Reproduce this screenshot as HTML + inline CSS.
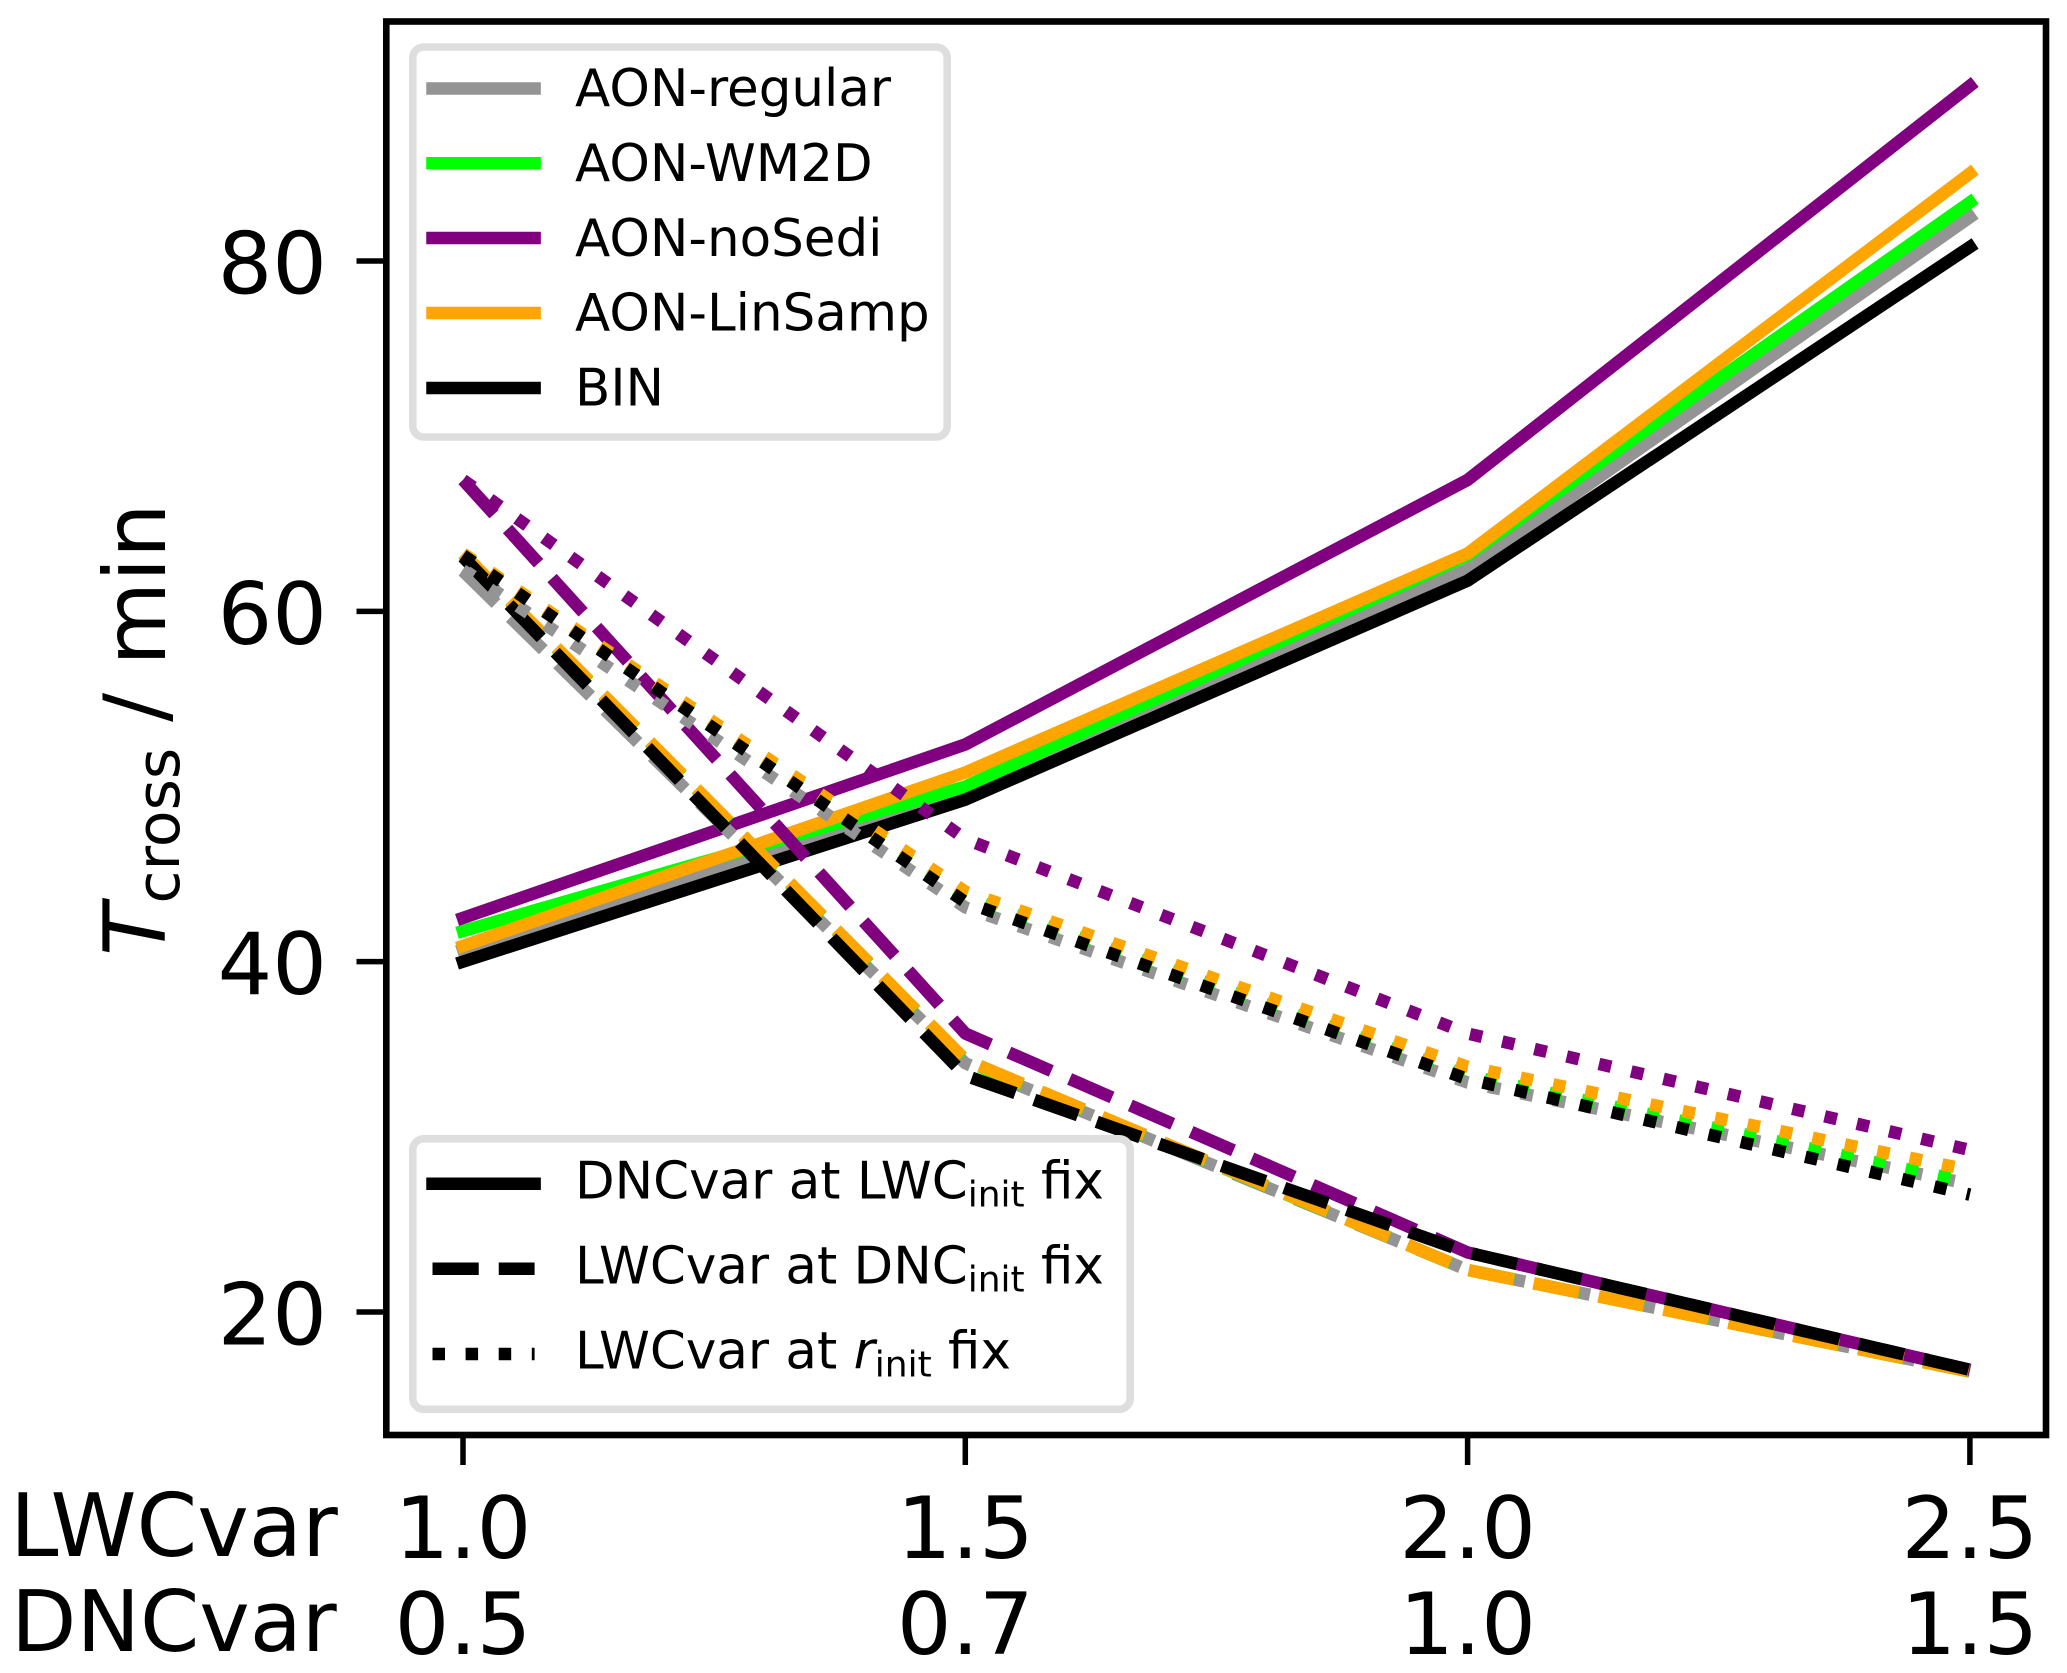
<!DOCTYPE html>
<html lang="en">
<head>
<meta charset="utf-8">
<title>Tcross versus LWCvar and DNCvar</title>
<style>
html,body{margin:0;padding:0;background:#fff;}
svg{display:block;}
text{font-family:"DejaVu Sans","Liberation Sans",sans-serif;fill:#000;}
</style>
</head>
<body>
<svg id="chart" xmlns="http://www.w3.org/2000/svg" width="2067" height="1673" viewBox="0 0 2067 1673">
  <rect x="0" y="0" width="2067" height="1673" fill="#fff"/>
  <g id="series-layer"></g>
  <rect x="386.3" y="21.5" width="1659.7" height="1413.5" fill="none" stroke="#000" stroke-width="6.6"/>
  <g id="ticks-layer"></g>

  <text transform="translate(165,956) rotate(-90)" font-size="86"><tspan font-style="italic">T</tspan><tspan font-size="60" dy="14">cross</tspan><tspan dy="-14" dx="26">/ min</tspan></text>

  <text x="10" y="1556" font-size="87">LWCvar</text>
  <text x="11" y="1651" font-size="85">DNCvar</text>

  <g>
    <rect x="412.8" y="47" width="534.4" height="390" rx="11" ry="11" fill="#fff" fill-opacity="0.8" stroke="#dedede" stroke-width="7.6"/>
    <line x1="432.5" x2="534.6" y1="88.5" y2="88.5" stroke="#949494" stroke-width="12.5" stroke-linecap="square"/>
    <text x="575" y="106" font-size="51.5">AON-regular</text>
    <line x1="432.5" x2="534.6" y1="163.3" y2="163.3" stroke="#00ff00" stroke-width="12.5" stroke-linecap="square"/>
    <text x="575" y="181" font-size="51.5">AON-WM2D</text>
    <line x1="432.5" x2="534.6" y1="238" y2="238" stroke="#800080" stroke-width="12.5" stroke-linecap="square"/>
    <text x="575" y="256" font-size="51.5">AON-noSedi</text>
    <line x1="432.5" x2="534.6" y1="313" y2="313" stroke="#ffa500" stroke-width="12.5" stroke-linecap="square"/>
    <text x="575" y="330.5" font-size="51.5">AON-LinSamp</text>
    <line x1="432.5" x2="534.6" y1="388" y2="388" stroke="#000" stroke-width="12.5" stroke-linecap="square"/>
    <text x="575" y="405.5" font-size="51.5">BIN</text>
  </g>

  <g>
    <rect x="412.8" y="1138.8" width="717.4" height="270.5" rx="11" ry="11" fill="#fff" fill-opacity="0.8" stroke="#dedede" stroke-width="7.6"/>
    <line x1="432.5" x2="534.6" y1="1183.7" y2="1183.7" stroke="#000" stroke-width="12.5" stroke-linecap="square"/>
    <text x="575" y="1198.5" font-size="51.5">DNCvar at LWC<tspan font-size="36" dy="8">init</tspan><tspan dy="-8"> fix</tspan></text>
    <line x1="432.5" x2="534.6" y1="1268.8" y2="1268.8" stroke="#000" stroke-width="12.5" stroke-dasharray="46.25 20"/>
    <text x="575" y="1283.5" font-size="51.5">LWCvar at DNC<tspan font-size="36" dy="8">init</tspan><tspan dy="-8"> fix</tspan></text>
    <line x1="432.5" x2="534.6" y1="1354" y2="1354" stroke="#000" stroke-width="12.5" stroke-dasharray="12.5 20.6"/>
    <text x="575" y="1368.5" font-size="51.5">LWCvar at <tspan font-style="italic">r</tspan><tspan font-size="36" dy="8">init</tspan><tspan dy="-8"> fix</tspan></text>
  </g>
</svg>

<script>
// Categories and tick labels
const lwcVarCategories = [1.0, 1.5, 2.0, 2.5];
const lwcVarLabels = ['1.0', '1.5', '2.0', '2.5'];
const dncVarLabels = ['0.5', '0.7', '1.0', '1.5'];
const yTickValues = [20, 40, 60, 80];

// Solid: DNCvar at LWCinit fix
const solidRegular = [40.7, 49.8, 62.4, 82.5];
const solidWm2d = [41.75, 50.0, 63.2, 83.35];
const solidNoSedi = [42.5, 52.4, 67.5, 90.0];
const solidLinSamp = [40.9, 50.8, 63.3, 85.0];
const solidBin = [40.0, 49.25, 61.75, 80.8];

// Dashed: LWCvar at DNCinit fix
const dashedRegular = [62.3, 34.2, 22.4, 16.6];
const dashedWm2d = [63.25, 34.35, 22.4, 16.6];
const dashedNoSedi = [67.5, 35.9, 23.4, 16.7];
const dashedLinSamp = [63.3, 34.4, 22.4, 16.6];
const dashedBin = [63.1, 33.5, 23.4, 16.7];

// Dotted: LWCvar at rinit fix
const dottedRegular = [62.4, 43.1, 33.1, 27.3];
const dottedWm2d = [63.25, 43.7, 33.5, 27.4];
const dottedNoSedi = [67.5, 47.0, 35.9, 29.25];
const dottedLinSamp = [63.3, 44.0, 34.0, 28.1];
const dottedBin = [63.2, 43.4, 33.3, 26.7];

const seriesColors = { regular: '#949494', wm2d: '#00ff00', noSedi: '#800080', linSamp: '#ffa500', bin: '#000000' };

function xScale(v) { return 463 + (v - 1.0) * 1004.6; }
function yScale(v) { return 1312 - (v - 20) * 17.517; }

const NS = 'http://www.w3.org/2000/svg';
const seriesLayer = document.getElementById('series-layer');
const ticksLayer = document.getElementById('ticks-layer');

function drawSeries(values, color, name, dash) {
  const line = document.createElementNS(NS, 'polyline');
  const pts = values.map(function (v, i) {
    return xScale(lwcVarCategories[i]).toFixed(2) + ',' + yScale(v).toFixed(2);
  }).join(' ');
  line.setAttribute('points', pts);
  line.setAttribute('fill', 'none');
  line.setAttribute('stroke', color);
  line.setAttribute('stroke-width', '12.5');
  line.setAttribute('stroke-linejoin', 'round');
  if (dash) {
    line.setAttribute('stroke-dasharray', dash);
    line.setAttribute('stroke-linecap', 'butt');
  } else {
    line.setAttribute('stroke-linecap', 'square');
  }
  
  
  seriesLayer.appendChild(line);
}

drawSeries(solidRegular, seriesColors.regular, 'solid-aon-regular', null);
drawSeries(solidWm2d, seriesColors.wm2d, 'solid-aon-wm2d', null);
drawSeries(solidNoSedi, seriesColors.noSedi, 'solid-aon-nosedi', null);
drawSeries(solidLinSamp, seriesColors.linSamp, 'solid-aon-linsamp', null);
drawSeries(solidBin, seriesColors.bin, 'solid-bin', null);

drawSeries(dashedRegular, seriesColors.regular, 'dashed-aon-regular', '46.25 20');
drawSeries(dashedWm2d, seriesColors.wm2d, 'dashed-aon-wm2d', '46.25 20');
drawSeries(dashedNoSedi, seriesColors.noSedi, 'dashed-aon-nosedi', '46.25 20');
drawSeries(dashedLinSamp, seriesColors.linSamp, 'dashed-aon-linsamp', '46.25 20');
drawSeries(dashedBin, seriesColors.bin, 'dashed-bin', '46.25 20');

drawSeries(dottedRegular, seriesColors.regular, 'dotted-aon-regular', '12.5 20.6');
drawSeries(dottedWm2d, seriesColors.wm2d, 'dotted-aon-wm2d', '12.5 20.6');
drawSeries(dottedNoSedi, seriesColors.noSedi, 'dotted-aon-nosedi', '12.5 20.6');
drawSeries(dottedLinSamp, seriesColors.linSamp, 'dotted-aon-linsamp', '12.5 20.6');
drawSeries(dottedBin, seriesColors.bin, 'dotted-bin', '12.5 20.6');

yTickValues.forEach(function (v) {
  const y = yScale(v);
  const tick = document.createElementNS(NS, 'line');
  tick.setAttribute('x1', '356.5');
  tick.setAttribute('x2', '386');
  tick.setAttribute('y1', y);
  tick.setAttribute('y2', y);
  tick.setAttribute('stroke', '#000');
  tick.setAttribute('stroke-width', '5.5');
  
  
  ticksLayer.appendChild(tick);
  const label = document.createElementNS(NS, 'text');
  label.setAttribute('x', '327');
  label.setAttribute('y', y + 32.5);
  label.setAttribute('text-anchor', 'end');
  label.setAttribute('font-size', '86');
  label.textContent = String(v);
  
  
  ticksLayer.appendChild(label);
});

lwcVarCategories.forEach(function (v, i) {
  const x = xScale(v);
  const tick = document.createElementNS(NS, 'line');
  tick.setAttribute('x1', x);
  tick.setAttribute('x2', x);
  tick.setAttribute('y1', '1436');
  tick.setAttribute('y2', '1465');
  tick.setAttribute('stroke', '#000');
  tick.setAttribute('stroke-width', '5.5');
  
  
  ticksLayer.appendChild(tick);
  const top = document.createElementNS(NS, 'text');
  top.setAttribute('x', x);
  top.setAttribute('y', '1558');
  top.setAttribute('text-anchor', 'middle');
  top.setAttribute('font-size', '86');
  top.textContent = lwcVarLabels[i];
  
  
  ticksLayer.appendChild(top);
  const bottom = document.createElementNS(NS, 'text');
  bottom.setAttribute('x', x);
  bottom.setAttribute('y', '1654');
  bottom.setAttribute('text-anchor', 'middle');
  bottom.setAttribute('font-size', '86');
  bottom.textContent = dncVarLabels[i];
  
  
  ticksLayer.appendChild(bottom);
});
</script>
</body>
</html>
